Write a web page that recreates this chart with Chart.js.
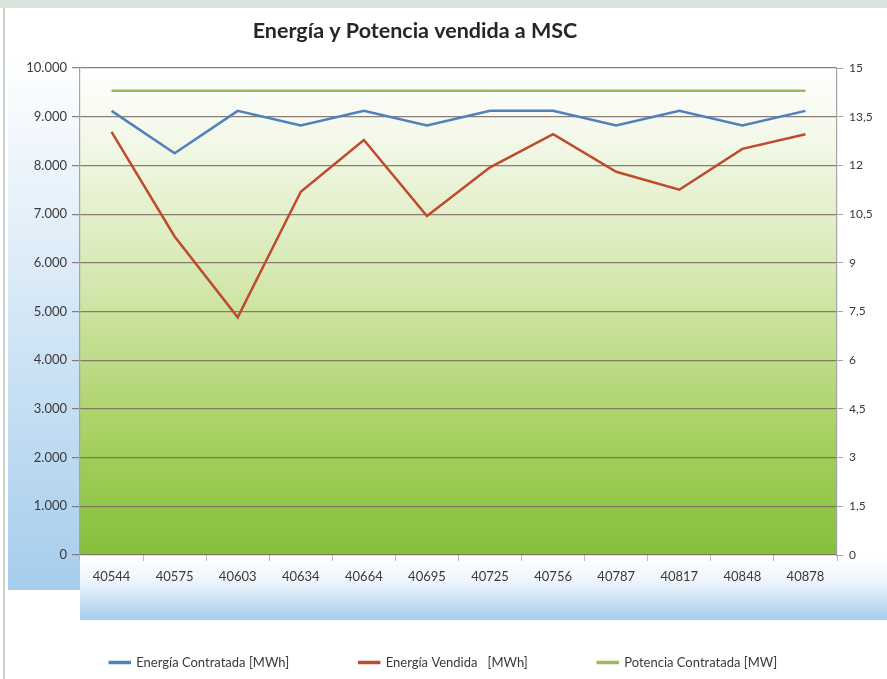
<!DOCTYPE html>
<html>
<head>
<meta charset="utf-8">
<script src="https://cdn.jsdelivr.net/npm/chart.js@4.4.0/dist/chart.umd.min.js"></script>
<style>
  html, body { margin: 0; padding: 0; background: #fff; }
  #wrap { width: 887px; height: 679px; }
</style>
</head>
<body>
<div id="wrap"><canvas id="myChart" width="887" height="679"></canvas></div>
<script>
// data
const months = ['40544', '40575', '40603', '40634', '40664', '40695', '40725', '40756', '40787', '40817', '40848', '40878']
const energiaContratada = [9120, 8250, 9120, 8820, 9120, 8820, 9120, 9120, 8820, 9120, 8820, 9120]
const energiaVendida = [8690, 6540, 4880, 7460, 8520, 6960, 7960, 8640, 7870, 7500, 8340, 8640]
const potenciaContratada = [14.3, 14.3, 14.3, 14.3, 14.3, 14.3, 14.3, 14.3, 14.3, 14.3, 14.3, 14.3]
const titleText = 'Energía y Potencia vendida a MSC'

const FONT = 'Lato, "Open Sans", sans-serif'
const textColor = '#3a3a3a'
const gridColor = 'rgba(120, 105, 95, 0.85)'

// backgrounds, frame and title
const decor = {
  id: 'decor',
  beforeDraw(chart) {
    const { ctx, chartArea: a, width, height } = chart
    ctx.save()
    ctx.fillStyle = '#ffffff'
    ctx.fillRect(0, 0, width, height)
    // top strip and frame
    ctx.fillStyle = '#d8e3dc'
    ctx.fillRect(0, 0, width, 8)
    ctx.fillStyle = '#c9d3cd'
    ctx.fillRect(3, 8, 2, height - 8)

    // left blue band
    let g = ctx.createLinearGradient(0, 55, 0, 590)
    g.addColorStop(0, '#ffffff')
    g.addColorStop(1, '#a6cdec')
    ctx.fillStyle = g
    ctx.fillRect(8, 55, a.left - 8, 590 - 55)

    // bottom blue band
    g = ctx.createLinearGradient(0, a.bottom, 0, 620)
    g.addColorStop(0, '#ffffff')
    g.addColorStop(0.4, '#eef5fb')
    g.addColorStop(1, '#a6cdec')
    ctx.fillStyle = g
    ctx.fillRect(a.left, a.bottom, width - a.left, 620 - a.bottom)

    // plot area green gradient
    g = ctx.createLinearGradient(0, a.top, 0, a.bottom)
    g.addColorStop(0, '#ffffff')
    g.addColorStop(0.15, '#f3f8e8')
    g.addColorStop(0.45, '#d3e7ad')
    g.addColorStop(0.75, '#a8d163')
    g.addColorStop(1, '#84c03a')
    ctx.fillStyle = g
    ctx.fillRect(a.left, a.top, a.right - a.left, a.bottom - a.top)

    // title
    ctx.fillStyle = '#262626'
    ctx.font = 'bold 21.5px ' + FONT
    ctx.textAlign = 'center'
    ctx.textBaseline = 'middle'
    ctx.fillText(titleText, 415, 31)
    ctx.restore()
  }
}

const ctx = document.getElementById('myChart').getContext('2d')
const chart = new Chart(ctx, {
  type: 'line',
  data: {
    labels: months,
    datasets: [{
      label: 'Energía Contratada [MWh]',
      data: energiaContratada,
      borderColor: '#4f81bd',
      backgroundColor: '#4f81bd',
      yAxisID: 'y'
    }, {
      label: 'Energía Vendida   [MWh]',
      data: energiaVendida,
      borderColor: '#be4b2e',
      backgroundColor: '#be4b2e',
      yAxisID: 'y'
    }, {
      label: 'Potencia Contratada [MW]',
      data: potenciaContratada,
      borderColor: '#9bbb59',
      backgroundColor: '#9bbb59',
      yAxisID: 'y1'
    }]
  },
  options: {
    responsive: false,
    animation: false,
    layout: { padding: { left: 0, top: 68, right: 0, bottom: 0 } },
    elements: {
      line: { borderWidth: 2.5, tension: 0 },
      point: { radius: 0 }
    },
    plugins: {
      title: { display: false },
      tooltip: { enabled: false },
      legend: {
        position: 'bottom',
        align: 'center',
        labels: {
          boxWidth: 20,
          boxHeight: 1,
          padding: 70,
          color: textColor,
          font: { family: FONT, size: 13 }
        }
      }
    },
    scales: {
      x: {
        offset: true,
        afterFit: (s) => { s.height = 31 },
        grid: { offset: true, drawOnChartArea: false, tickLength: 6, color: '#b8b8b8' },
        border: { display: false },
        ticks: { color: textColor, font: { family: FONT, size: 13 }, padding: 8, maxRotation: 0 }
      },
      y: {
        position: 'left',
        min: 0,
        max: 10000,
        afterFit: (s) => { s.width = 80 },
        grid: { color: gridColor, lineWidth: 1.2, tickLength: 8 },
        border: { color: '#a5a5a5', width: 1.2 },
        ticks: {
          stepSize: 1000,
          color: textColor,
          font: { family: FONT, size: 13 },
          padding: 5,
          callback: (v) => v.toLocaleString('de-DE')
        }
      },
      y1: {
        position: 'right',
        min: 0,
        max: 15,
        afterFit: (s) => { s.width = 50 },
        grid: { drawOnChartArea: false, color: '#a5a5a5', tickLength: 6 },
        border: { color: '#a5a5a5', width: 1.2 },
        ticks: {
          stepSize: 1.5,
          color: textColor,
          font: { family: FONT, size: 12 },
          padding: 6,
          callback: (v) => (Math.round(v * 10) / 10).toString().replace('.', ',')
        }
      }
    }
  },
  plugins: [decor]
})
</script>
</body>
</html>
